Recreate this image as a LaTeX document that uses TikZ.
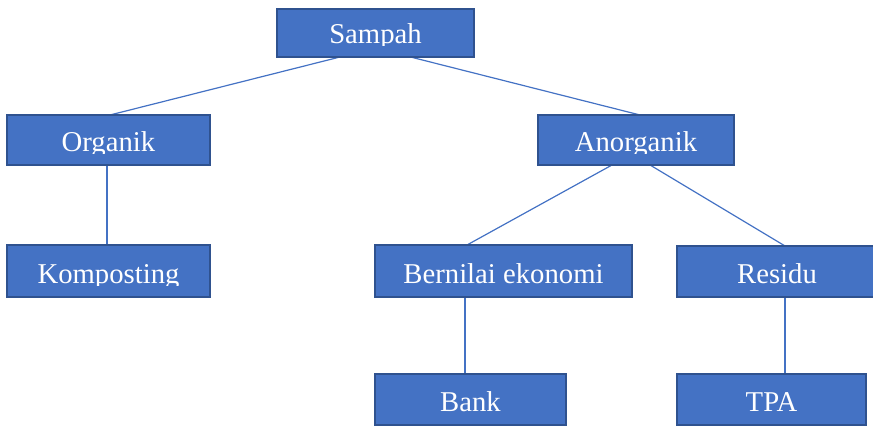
\documentclass[tikz,border=0pt]{standalone}
\usepackage{fontspec}
\setmainfont{Liberation Serif}
\usetikzlibrary{backgrounds}
\definecolor{boxfill}{HTML}{4472C4}
\definecolor{boxline}{HTML}{2F528F}
\definecolor{conn}{HTML}{4472C4}
\tikzset{
  bx/.style={draw=boxline, fill=boxfill, line width=1.6pt, rectangle, inner sep=0pt, outer sep=0pt},
  lbl/.style={anchor=base, text=white, inner sep=0pt, font=\fontsize{28.7}{34}\selectfont},
  link/.style={draw=conn, line width=1.2pt}
}
\newcommand{\boxlabel}[2]{%
  \begin{scope}
    \clip ([yshift=-1pt]#1.north west) rectangle ([yshift=11pt]#1.south east);
    \node[lbl] (#1-t) at ([yshift=13pt]#1.south) {#2};
  \end{scope}}
\begin{document}
\begin{tikzpicture}[x=1pt,y=-1pt]
\useasboundingbox (0,0) rectangle (873,427);
\node[bx, minimum width=197pt, minimum height=48pt] (sampah) at (375.5,33) {};
\node[bx, minimum width=203pt, minimum height=50pt] (organik) at (108.5,140) {};
\node[bx, minimum width=196pt, minimum height=50pt] (anorganik) at (636,140) {};
\node[bx, minimum width=203pt, minimum height=52pt] (komposting) at (108.5,271) {};
\node[bx, minimum width=257pt, minimum height=52pt] (bernilai) at (503.5,271) {};
\node[bx, minimum width=200pt, minimum height=51pt] (residu) at (777,271.5) {};
\node[bx, minimum width=191pt, minimum height=51pt] (bank) at (470.5,399.5) {};
\node[bx, minimum width=189pt, minimum height=51pt] (tpa) at (771.5,399.5) {};
\boxlabel{sampah}{Sampah}
\boxlabel{organik}{Organik}
\boxlabel{anorganik}{Anorganik}
\boxlabel{komposting}{Komposting}
\boxlabel{bernilai}{Bernilai ekonomi}
\boxlabel{residu}{Residu}
\boxlabel{bank}{Bank}
\boxlabel{tpa}{TPA}
\begin{scope}[on background layer]
\draw[link] ([xshift=-35.5pt]sampah.south) -- ([xshift=1.5pt]organik.north);
\draw[link] ([xshift=35pt]sampah.south) -- ([xshift=4pt]anorganik.north);
\draw[link] ([xshift=-1.5pt]organik.south) -- ([xshift=-1.5pt]komposting.north);
\draw[link] ([xshift=-24pt]anorganik.south) -- ([xshift=-36.5pt]bernilai.north);
\draw[link] ([xshift=14pt]anorganik.south) -- ([xshift=8pt]residu.north);
\draw[link] ([xshift=-38.5pt]bernilai.south) -- ([xshift=-5.5pt]bank.north);
\draw[link] ([xshift=8pt]residu.south) -- ([xshift=13.5pt]tpa.north);
\end{scope}
\end{tikzpicture}
\end{document}
